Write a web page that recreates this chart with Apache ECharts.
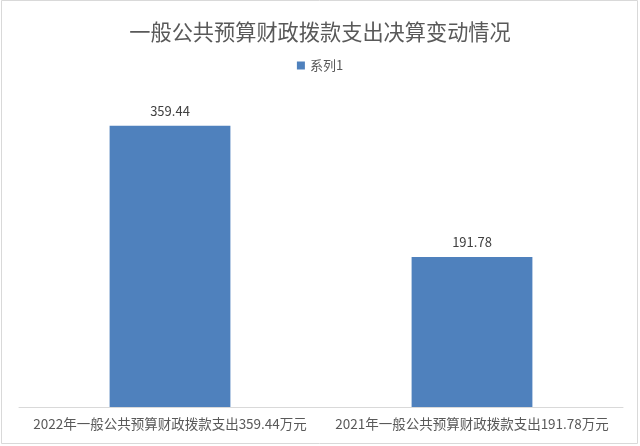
<!DOCTYPE html>
<html>
<head>
<meta charset="utf-8">
<script src="https://cdn.jsdelivr.net/npm/echarts@6/dist/echarts.min.js"></script>
<style>
html,body{margin:0;padding:0;background:#fff;}
#chart{width:640px;height:446px;}
</style>
</head>
<body>
<div id="chart"></div>
<script>
const titleText = '一般公共预算财政拨款支出决算变动情况';
const seriesName = '系列1';
const categories = ['2022年一般公共预算财政拨款支出359.44万元', '2021年一般公共预算财政拨款支出191.78万元'];
const values = [359.44, 191.78];

const FONT = '"Noto Sans CJK SC", "Microsoft YaHei", sans-serif';
const chart = echarts.init(document.getElementById('chart'), null, {renderer: 'canvas'});
chart.setOption({
  backgroundColor: '#ffffff',
  animation: false,
  graphic: [{
    type: 'rect',
    shape: {x: 1.5, y: 0.5, width: 636, height: 443},
    style: {fill: 'none', stroke: '#d9d9d9', lineWidth: 1},
    silent: true, z: -1
  }],
  title: {
    text: titleText,
    left: 'center',
    top: 16,
    textStyle: {fontFamily: FONT, fontSize: 21.2, fontWeight: 'normal', color: '#595959'}
  },
  legend: {
    data: [seriesName],
    top: 54,
    left: 'center',
    icon: 'rect',
    itemWidth: 8,
    itemHeight: 8,
    itemGap: 6,
    textStyle: {fontFamily: FONT, fontSize: 13, color: '#595959'}
  },
  grid: {left: 19, right: 17, top: 94, bottom: 39, containLabel: false},
  xAxis: {
    type: 'category',
    data: categories,
    axisLine: {show: true, lineStyle: {color: '#d9d9d9', width: 1}},
    axisTick: {show: false},
    axisLabel: {fontFamily: FONT, fontSize: 13.5, color: '#595959', margin: 10, interval: 0}
  },
  yAxis: {
    type: 'value',
    min: 0,
    max: 400,
    interval: 50,
    show: false,
    splitLine: {show: false}
  },
  series: [{
    name: seriesName,
    type: 'bar',
    data: values,
    barWidth: '40%',
    itemStyle: {color: '#4f81bd'},
    label: {
      show: true,
      position: 'top',
      distance: 8,
      fontFamily: FONT,
      fontSize: 13,
      color: '#404040',
      formatter: function (p) { return p.value.toFixed(2); }
    }
  }]
});
</script>
</body>
</html>
